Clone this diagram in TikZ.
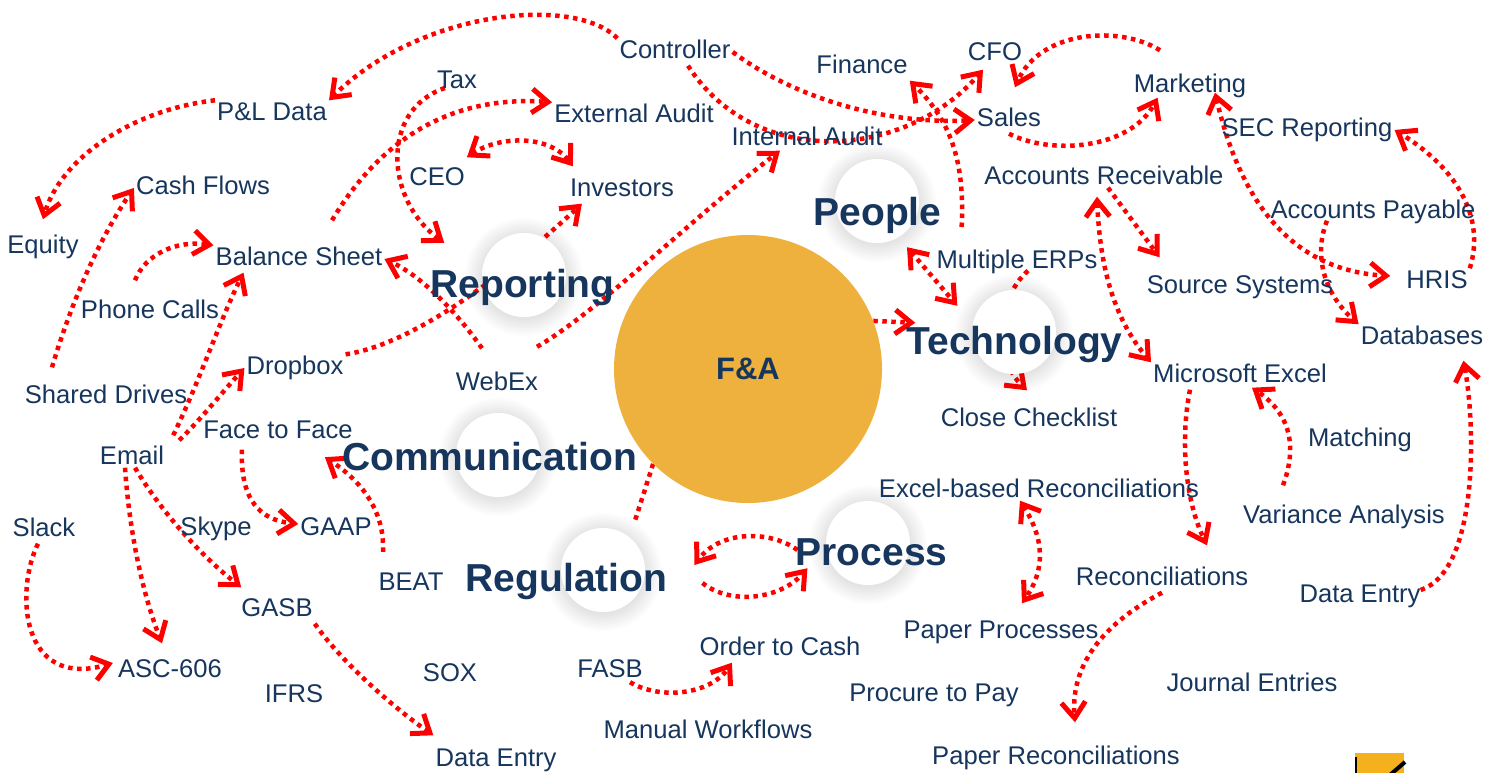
\documentclass[tikz,border=0pt]{standalone}
\usepackage{fontspec}
\setmainfont{Liberation Sans}
\usepackage{tikz}
\usetikzlibrary{arrows.meta}
\tikzset{>={Straight Barb[length=16pt,width=24pt,line width=5pt]}}
\definecolor{navy}{RGB}{22,54,93}
\definecolor{faOrange}{RGB}{238,177,62}
\definecolor{logoYellow}{RGB}{245,176,30}
\pgfdeclarelayer{links}
\pgfdeclarelayer{glow}
\pgfsetlayers{links,glow,main}

\begin{document}
\begin{tikzpicture}[
    x = 1pt, y = -1pt,
    lbl/.style = {text=navy, inner sep=2pt, text height=18pt, text depth=5pt,
        font=\fontsize{25.6}{30}\selectfont},
    big/.style = {text=navy, inner sep=2pt, text height=28pt, text depth=8pt,
        font=\fontsize{39}{44}\selectfont\bfseries},
    hub/.style = {circle, fill=white, minimum size=84pt, inner sep=0pt},
    link/.style = {red, line width=4.5pt, dash pattern=on 4.5pt off 4.5pt}
  ]
  \useasboundingbox (0,0) rectangle (1489,773);

  \node[circle, fill=faOrange, minimum size=268pt, inner sep=0pt, text=navy,
    font=\fontsize{31}{36}\selectfont\bfseries] (fa) at (748,369) {F\&A};

  \foreach \n/\x/\y in {repc/524/275, peoc/877/201, tecc/1014/332,
      comc/498/455, regc/603/570, proc/868/543}
  \node[hub] (\n) at (\x,\y) {};

  \foreach \n/\x/\y/\txt in {rep/522.5/287/Reporting, peo/877.5/215/People,
      tec/1014.5/344/Technology, com/489.5/460/Communication,
      reg/566.5/581/Regulation, pro/871.5/555/Process}
  \node[big] (\n) at (\x,\y) {\txt};

  \foreach \n/\x/\y/\txt in {ctrl/675/52/Controller, tax/457/82/Tax,
      pl/272/114/P\&L Data, exta/634/116/External Audit, fin/862/67/Finance,
      cfo/995/54/CFO, mkt/1190/86/Marketing, sales/1009/120/Sales,
      inta/807/139/Internal Audit, sec/1307/130/SEC Reporting,
      ceo/437/179/CEO, inv/622/190/Investors, cash/203/188/Cash Flows,
      ar/1104/178/Accounts Receivable, eq/43/247/Equity,
      bs/299/259/Balance Sheet, ap/1373/212/Accounts Payable,
      erp/1017/262/Multiple ERPs, src/1240/287/Source Systems,
      hris/1437/282/HRIS, phone/150/312/Phone Calls, db/1422/338/Databases,
      drop/295/368/Dropbox, mse/1240/376/Microsoft Excel,
      webex/497/384/WebEx, shd/106/397/Shared Drives,
      close/1029/420/Close Checklist, f2f/278/432/Face to Face,
      match/1360/440/Matching, email/132/458/Email,
      xrec/1039/491/Excel-based Reconciliations,
      var/1344/517/Variance Analysis, slack/44/530/Slack,
      skype/216/529/Skype, gaap/336/529/GAAP, beat/411/584/BEAT,
      rec/1162/579/Reconciliations, dent/1360/596/Data Entry,
      gasb/277/610/GASB, pp/1001/632/Paper Processes,
      otc/780/649/Order to Cash, asc/170/671/ASC-606, sox/450/675/SOX,
      fasb/610/671/FASB, je/1252/685/Journal Entries, ifrs/294/696/IFRS,
      p2p/934/695/Procure to Pay, mw/708/732/Manual Workflows,
      dent2/496/760/Data Entry, prec/1056/758/Paper Reconciliations}
  \node[lbl] (\n) at (\x,\y) {\txt};

  % soft glow round the white hubs
  \begin{pgfonlayer}{glow}
    \foreach \n in {repc, peoc, tecc, comc, regc, proc}
      \foreach \r in {43,45,...,59}
        \fill[black, opacity=.011] ([yshift=-2pt]\n.center) circle (\r);
  \end{pgfonlayer}

  \begin{pgfonlayer}{links}
    \fill[white] (0,0) rectangle (1489,773);
    % upper left
    \draw[link,->] (ctrl.north west) .. controls (575,-5) and (420,10) .. (pl.north east);
    \draw[link,->] (pl.north west) .. controls (130,110) and (60,160) .. ([shift={(0,-14)}]eq.north);
    \draw[link,->] ([shift={(-54,-16)}]shd.north) .. controls (75,290) and (105,230) .. (cash.west);
    \draw[link,->] ([shift={(-15,-18)}]phone.north) .. controls (145,255) and (175,240) .. (bs.north west);
    \draw[link,->] ([shift={(7,-9)}]email.north east) .. controls (200,380) and (220,320) .. ([shift={(30,0)}]bs.south west);
    \draw[link,->] ([shift={(13,-4)}]email.north east) .. controls (200,420) and (220,395) .. (drop.west);
    \draw[link,->] ([shift={(-15,-22)}]webex.north) .. controls (455,310) and (420,275) .. (bs.east);
    \draw[link,->] (drop.north east) .. controls (410,345) and (500,280) .. ([shift={(14,0)}]inv.south west);
    \draw[link,->] ([shift={(33,-25)}]bs.north) .. controls (380,140) and (450,95) .. (exta.north west);
    \draw[link,->] ([shift={(10,6)}]tax.west) .. controls (380,110) and (385,200) .. ([shift={(16,-24)}]rep.north west);
    \draw[link,<->] ([shift={(0,-8)}]ceo.north east) .. controls (500,135) and (550,135) .. ([shift={(5,-10)}]inv.north west);
    \draw[link,->] ([shift={(40,-23.5)}]webex.north) .. controls (600,310) and (690,220) .. ([shift={(-27,-2)}]inta.south);
    % upper right
    \draw[link,->] (ctrl.east) .. controls (790,95) and (880,125) .. (sales.west);
    \draw[link,->] ([shift={(13,0)}]ctrl.south) .. controls (755,170) and (905,160) .. ([shift={(-12,2)}]cfo.south);
    \draw[link,->] ([shift={(18,12)}]peo.east) .. controls (965,160) and (950,120) .. (fin.south east);
    \draw[link,->] ([shift={(-30,-22)}]mkt.north) .. controls (1120,25) and (1040,30) .. ([shift={(6,-19)}]sales.north);
    \draw[link,->] (sales.south) .. controls (1050,155) and (1130,150) .. ([shift={(26,-2)}]mkt.south west);
    \draw[link,<->] ([shift={(25,-7)}]mkt.south) .. controls (1240,200) and (1290,270) .. ([shift={(-14,-6)}]hris.west);
    \draw[link,->] (hris.north east) .. controls (1485,220) and (1460,170) .. (sec.east);
    \draw[link,->] ([shift={(-46,-5)}]ap.south) .. controls (1315,250) and (1320,290) .. (db.north west);
    \draw[link,->] ([shift={(4,-4)}]ar.south) -- ([shift={(15,-16)}]src.north west);
    \draw[link,<->] ([shift={(-7,5)}]ar.south) .. controls (1100,270) and (1115,320) .. (mse.north west);
    \draw[link,<->] ([shift={(29.5,12)}]peo.south) -- ([shift={(53,-18)}]tec.north west);
    \draw[link,->] (fa.21) -- ([shift={(11,-1)}]tec.north west);
    \draw[link,->] ([shift={(11,-5)}]erp.south) .. controls (995,300) and (995,360) .. ([shift={(-2,-16)}]close.north);
    % lower left
    \draw[link,->] ([shift={(-28,-18.5)}]beat.north) .. controls (385,510) and (360,480) .. ([shift={(-30,11.5)}]f2f.south east);
    \draw[link,->] ([shift={(-36,4)}]f2f.south) .. controls (240,500) and (260,520) .. ([shift={(0,-5)}]gaap.west);
    \draw[link,->] ([shift={(-7,-4)}]email.south) .. controls (130,540) and (145,600) .. ([shift={(-8,-14)}]asc.north);
    \draw[link,->] ([shift={(3,-4)}]email.south) .. controls (160,510) and (200,555) .. ([shift={(2,-9)}]gasb.north west);
    \draw[link,->] ([shift={(-6,0)}]slack.south) .. controls (15,590) and (20,690) .. ([shift={(-3,-8)}]asc.west);
    \draw[link,->] (gasb.south east) .. controls (340,660) and (390,705) .. ([shift={(0,-11)}]dent2.north west);
    \draw[link] (fa.225) -- ([shift={(2,-19)}]regc.north east);
    % lower right
    \draw[link,->] ([shift={(4,-5)}]pro.west) .. controls (770,530) and (720,530) .. ([shift={(25,-16)}]reg.east);
    \draw[link,->] ([shift={(33,2)}]reg.east) .. controls (730,605) and (780,600) .. ([shift={(14,-7)}]pro.south west);
    \draw[link,->] ([shift={(20,-2.5)}]fasb.south) .. controls (660,700) and (710,695) .. ([shift={(34.5,0)}]otc.south west);
    \draw[link,<->] ([shift={(-19,-4)}]xrec.south) .. controls (1045,540) and (1045,570) .. ([shift={(21,-15)}]pp.north);
    \draw[link,->] ([shift={(-50,0)}]mse.south) .. controls (1180,440) and (1185,500) .. ([shift={(45,-20)}]rec.north);
    \draw[link,->] ([shift={(-61,-18)}]var.north) .. controls (1300,440) and (1285,410) .. ([shift={(12,-2)}]mse.south);
    \draw[link,->] ([shift={(-2,-6)}]dent.east) .. controls (1480,570) and (1475,420) .. ([shift={(-22,9)}]db.south east);
    \draw[link,->] (rec.south) .. controls (1110,620) and (1070,660) .. ([shift={(19,-22)}]prec.north);
  \end{pgfonlayer}

  % corner badge
  \fill[logoYellow] (1355,753) rectangle (1404,776);
  \draw[black, line width=1.5pt] (1356,757) -- (1356,773);
  \draw[black, line width=4pt] (1390,775) -- (1405,762);
\end{tikzpicture}
\end{document}
